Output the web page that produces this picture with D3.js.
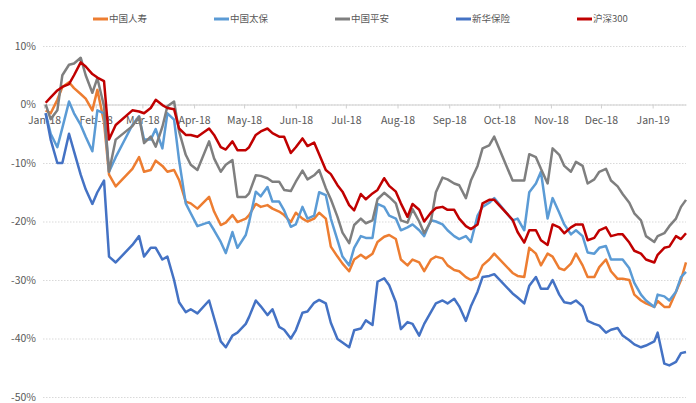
<!DOCTYPE html>
<html>
<head>
<meta charset="utf-8">
<script src="https://cdnjs.cloudflare.com/ajax/libs/d3/7.8.5/d3.min.js"></script>
<style>
  body { margin: 0; background: #fff; }
  text { font-family: "Noto Sans CJK SC", "Noto Sans", sans-serif; }
</style>
</head>
<body>
<script>
// sample dates (Tue / Fri, trading days)
var dates = [
  "2018-01-02","2018-01-05","2018-01-09","2018-01-12","2018-01-16","2018-01-19","2018-01-23","2018-01-26","2018-01-30",
  "2018-02-02","2018-02-06","2018-02-09","2018-02-13","2018-02-23","2018-02-27",
  "2018-03-02","2018-03-06","2018-03-09","2018-03-13","2018-03-16","2018-03-20","2018-03-23","2018-03-27","2018-03-30",
  "2018-04-03","2018-04-10","2018-04-13","2018-04-17","2018-04-20","2018-04-24","2018-04-27",
  "2018-05-02","2018-05-04","2018-05-08","2018-05-11","2018-05-15","2018-05-18","2018-05-22","2018-05-25","2018-05-29",
  "2018-06-01","2018-06-05","2018-06-08","2018-06-12","2018-06-15","2018-06-19","2018-06-22","2018-06-26","2018-06-29",
  "2018-07-03","2018-07-06","2018-07-10","2018-07-13","2018-07-17","2018-07-20","2018-07-24","2018-07-27","2018-07-31",
  "2018-08-03","2018-08-07","2018-08-10","2018-08-14","2018-08-17","2018-08-21","2018-08-24","2018-08-28","2018-08-31",
  "2018-09-04","2018-09-07","2018-09-11","2018-09-14","2018-09-18","2018-09-21","2018-09-25","2018-09-28",
  "2018-10-09","2018-10-12","2018-10-16","2018-10-19","2018-10-23","2018-10-26","2018-10-30",
  "2018-11-02","2018-11-06","2018-11-09","2018-11-13","2018-11-16","2018-11-20","2018-11-23","2018-11-27","2018-11-30",
  "2018-12-04","2018-12-07","2018-12-11","2018-12-14","2018-12-18","2018-12-21","2018-12-25","2018-12-28",
  "2019-01-02","2019-01-04","2019-01-08","2019-01-11","2019-01-15","2019-01-18","2019-01-21"
];

// cumulative return, %
var chinaLife = [
  -1, -1.5, 0.8, 3.0, 3.8, 2.8, 1.8, 1.0, -1.0,
  2.5, -3, -12, -14, -11, -9,
  -11.5, -11.2, -9.6, -10.5, -11.5, -11.2, -12.9, -16.6, -16.9,
  -17.8, -15.8, -18.3, -20.6, -20.2, -18.9, -20.1,
  -19.5, -18.9, -17, -17.5, -17.2, -17.8, -18.3, -18.9, -20.1,
  -18.5, -19.5, -20, -19.5, -18.5, -19.5, -24.3, -26, -27.2,
  -28.5, -26.5, -25.7, -26.3, -25.5, -23.5, -22.6, -22.3, -23,
  -26.5, -27.5, -26.5, -27, -28.5, -26.5, -26, -26.3, -27.5,
  -28.3, -28.5, -29.5, -30, -29.5, -27.5, -26.5, -25.5,
  -28.8, -29.3, -29.5, -24.5, -25.5, -27.5, -25.5,
  -26, -28, -28.3, -27.2, -25.5, -27.5, -29.5, -29.5, -27.8,
  -26.5, -28.5, -29.8, -29.8, -30, -32.5, -33.5, -34,
  -34.6, -33.6, -34.6, -34.6, -32, -30, -27
];
var cpic = [
  -1.5, -5, -7.3, -4, 0.5, -1.5, -3.5, -5.5, -8,
  -1, -1.5, -11.5, -9, -3.5, -2,
  -6, -6, -4.2, -7.5, -1.5, -2.6, -9.5, -16.9, -18.6,
  -20.8, -20.1, -21.5, -23.5, -25.4, -21.8, -24.5,
  -22.3, -20.1, -14.9, -15.7, -14.1, -16.6, -16.6, -18.1, -20.9,
  -20.5, -17.5, -19.5, -19, -15, -15.5, -19.5, -23.2, -26,
  -27.5, -24.5, -22.5, -22.8, -22.8, -17, -17.5, -19, -19.5,
  -21.5, -21, -20.5, -21.5, -22.5, -19.8, -20, -20.5, -21.5,
  -22.5, -23, -22.5, -23.5, -19, -17.5, -16.8, -16,
  -19.8, -19.5, -21.5, -15, -13.5, -11.5, -19.5,
  -16, -18.5, -20.5, -22.2, -21.5, -22.5, -25.3, -25.5, -24.5,
  -24.2, -26.5, -26.5, -26.5, -28, -30.5, -32.5, -33.5,
  -34.6, -32.5, -32.8, -33.5, -32, -29.5, -28.6
];
var pingAn = [
  0, -2.5, -1.0, 5.0, 6.8, 7.0, 8.0, 5.0, 2.0,
  4.5, -0.3, -11.5, -6.0, -3.7, -2.1,
  -6.6, -5.5, -7.2, -3.8, -0.3, 0.5, -4.6, -8.6, -10.3,
  -11.2, -6.3, -9.2, -11.5, -10.3, -9.5, -15.8,
  -15.8, -15.2, -12.1, -12.2, -12.6, -13.2, -13.2, -14.6, -14.8,
  -13.2, -11.3, -12.8, -12.1, -11.2, -14.3, -16.2, -19.2, -21.9,
  -23.7, -20.6, -19.5, -20.3, -19.8, -16.2, -15.1, -15.8, -16.9,
  -19.8, -20.2, -17.9, -20, -22, -20, -15, -12.5, -12.8,
  -13.5, -13.8, -16, -13, -10.5, -7.5, -7, -5.5,
  -13, -13, -13, -8.5, -9, -11, -13.5,
  -7.5, -8.6, -10.5, -11.5, -9.8, -10.5, -13.5, -12.8, -11.5,
  -11, -13, -14, -15.3, -16.8, -18.6, -19.8, -22.5,
  -23.5, -22.5, -22, -20.8, -19.5, -17.5, -16.3
];
var newChinaLife = [
  -1.5, -6, -10, -10, -5, -8, -12, -14.5, -17,
  -15, -13, -26, -27, -24, -22.5,
  -26, -24.5, -24.5, -26.5, -26, -30, -33.8, -35.5, -35,
  -35.7, -33.5, -36.5, -40.5, -41.5, -39.5, -39,
  -37.5, -36.3, -33.5, -34.5, -36, -35, -38, -38.5, -40,
  -38.6, -35.6, -35.4, -33.9, -33.4, -34, -37.3, -40.1, -40.7,
  -41.5, -38.6, -38.3, -36.9, -37.7, -30.3, -29.7, -30.9, -33.8,
  -38.4, -37.2, -37.5, -39.5, -37.5, -35.5, -34, -33.5, -34,
  -33.2, -34.5, -37, -34.5, -32, -29.5, -29.3, -29,
  -32.3, -33, -34, -31, -29.5, -31.5, -31.5,
  -30, -32.5, -33.8, -34, -33.5, -34.5, -37, -37.5, -37.8,
  -39, -38.5, -38.2, -39.5, -40.3, -41, -41.5, -41.2,
  -40.5, -39, -44.3, -44.6, -44, -42.5, -42.3
];
var csi300 = [
  0.3, 1.2, 2.4, 3.0, 3.5, 5.0, 7.2, 6.5, 5.2,
  4.6, 4.0, -6.0, -3.5, -1.0, -1.2,
  -1.5, -0.6, 0.8, -0.1, -0.6, -0.8, -4.1, -5.2, -5.2,
  -5.5, -4.1, -5.2, -7.3, -7.7, -6.3, -7.8,
  -7.8, -7.3, -5.2, -4.6, -4.1, -4.9, -5.5, -5.5, -8.3,
  -7.3, -5.8, -7.1, -6.5, -8.5, -11.2, -11.9, -13.8, -14.9,
  -17.2, -18.1, -15.3, -16.2, -15.2, -14.6, -12.6, -13.9, -14.9,
  -16.9, -19.2, -17.0, -18.0, -20.0, -18.5, -17.7, -17.5, -18.0,
  -18.0, -19.5, -20.8, -21.3, -20.5, -16.9, -16.3, -16.3,
  -19.7, -21.8, -23.6, -21.5, -21.5, -23.2, -24.0,
  -20.5, -21.0, -22.0, -21.0, -20.5, -20.5, -23.2, -22.8, -21.5,
  -21.0, -22.5, -22.2, -22.2, -23.6, -25.0, -25.5, -26.5,
  -27.0, -25.7, -24.5, -24.3, -22.5, -23.0, -22.0
];

var seriesNames = ["中国人寿", "中国太保", "中国平安", "新华保险", "沪深300"];
var seriesColors = ["#ED7D31", "#5B9BD5", "#7F7F7F", "#4472C4", "#C00000"];
var seriesValues = [chinaLife, cpic, pingAn, newChinaLife, csi300];

var yTicks = [10, 0, -10, -20, -30, -40, -50];
var monthTicks = ["2018-01-01","2018-02-01","2018-03-01","2018-04-01","2018-05-01","2018-06-01","2018-07-01",
  "2018-08-01","2018-09-01","2018-10-01","2018-11-01","2018-12-01","2019-01-01"];

var width = 696, height = 403;
var parse = d3.timeParse("%Y-%m-%d");

var svg = d3.select("body")
  .append("svg")
  .style("background-color", "white")
    .attr("width", width)
    .attr("height", height);

var x = d3.scaleTime()
  .domain([parse("2018-01-01"), parse(dates[dates.length - 1])])
  .range([44, 686]);

var y = d3.scaleLinear()
  .domain([-50, 10])
  .range([397, 46]);

// y axis + dotted gridlines
var yAxis = svg.append("g")
  .attr("transform", "translate(43,0)")
  .call(d3.axisLeft(y)
    .tickValues(yTicks)
    .tickSize(-(686 - 43))
    .tickPadding(7)
    .tickFormat(function(d) { return d + "%"; }));
yAxis.select(".domain").remove();
yAxis.selectAll(".tick line")
  .attr("stroke", "#d9d9d9")
  .attr("stroke-dasharray", "1.5,1.5");
yAxis.selectAll(".tick text")
  .attr("fill", "#595959")
  .style("font-size", "10.5px");

// x axis sits on the 0% line
var xAxis = svg.append("g")
  .attr("transform", "translate(0," + y(0) + ")")
  .call(d3.axisBottom(x)
    .tickValues(monthTicks.map(parse))
    .tickSize(4)
    .tickSizeOuter(0)
    .tickPadding(8)
    .tickFormat(d3.timeFormat("%b-%y")));
xAxis.select(".domain").attr("stroke", "#d0d0d0");
xAxis.selectAll(".tick line").attr("stroke", "#d0d0d0");
xAxis.selectAll(".tick text")
  .attr("fill", "#595959")
  .style("font-size", "10.5px");

// lines
var line = d3.line()
  .x(function(d) { return x(d.date); })
  .y(function(d) { return y(d.value); });

seriesNames.forEach(function(name, i) {
  var pts = dates.map(function(dt, j) { return {date: parse(dt), value: seriesValues[i][j]}; });
  svg.append("path")
    .datum(pts)
    .attr("fill", "none")
    .attr("stroke", seriesColors[i])
    .attr("stroke-width", 2.5)
    .attr("stroke-linejoin", "round")
    .attr("d", line);
});

// legend
var legend = svg.append("g")
  .selectAll("g")
  .data(seriesNames)
  .enter()
  .append("g")
  .attr("transform", function(d, i) { return "translate(" + (93 + i * 121) + ",19)"; });

legend.append("line")
  .attr("x1", 0).attr("x2", 15)
  .attr("stroke", function(d, i) { return seriesColors[i]; })
  .attr("stroke-width", 3);

legend.append("text")
  .attr("x", 16)
  .attr("dy", "0.35em")
  .attr("fill", "#595959")
  .style("font-size", "9.5px")
  .text(function(d) { return d; });
</script>
</body>
</html>
